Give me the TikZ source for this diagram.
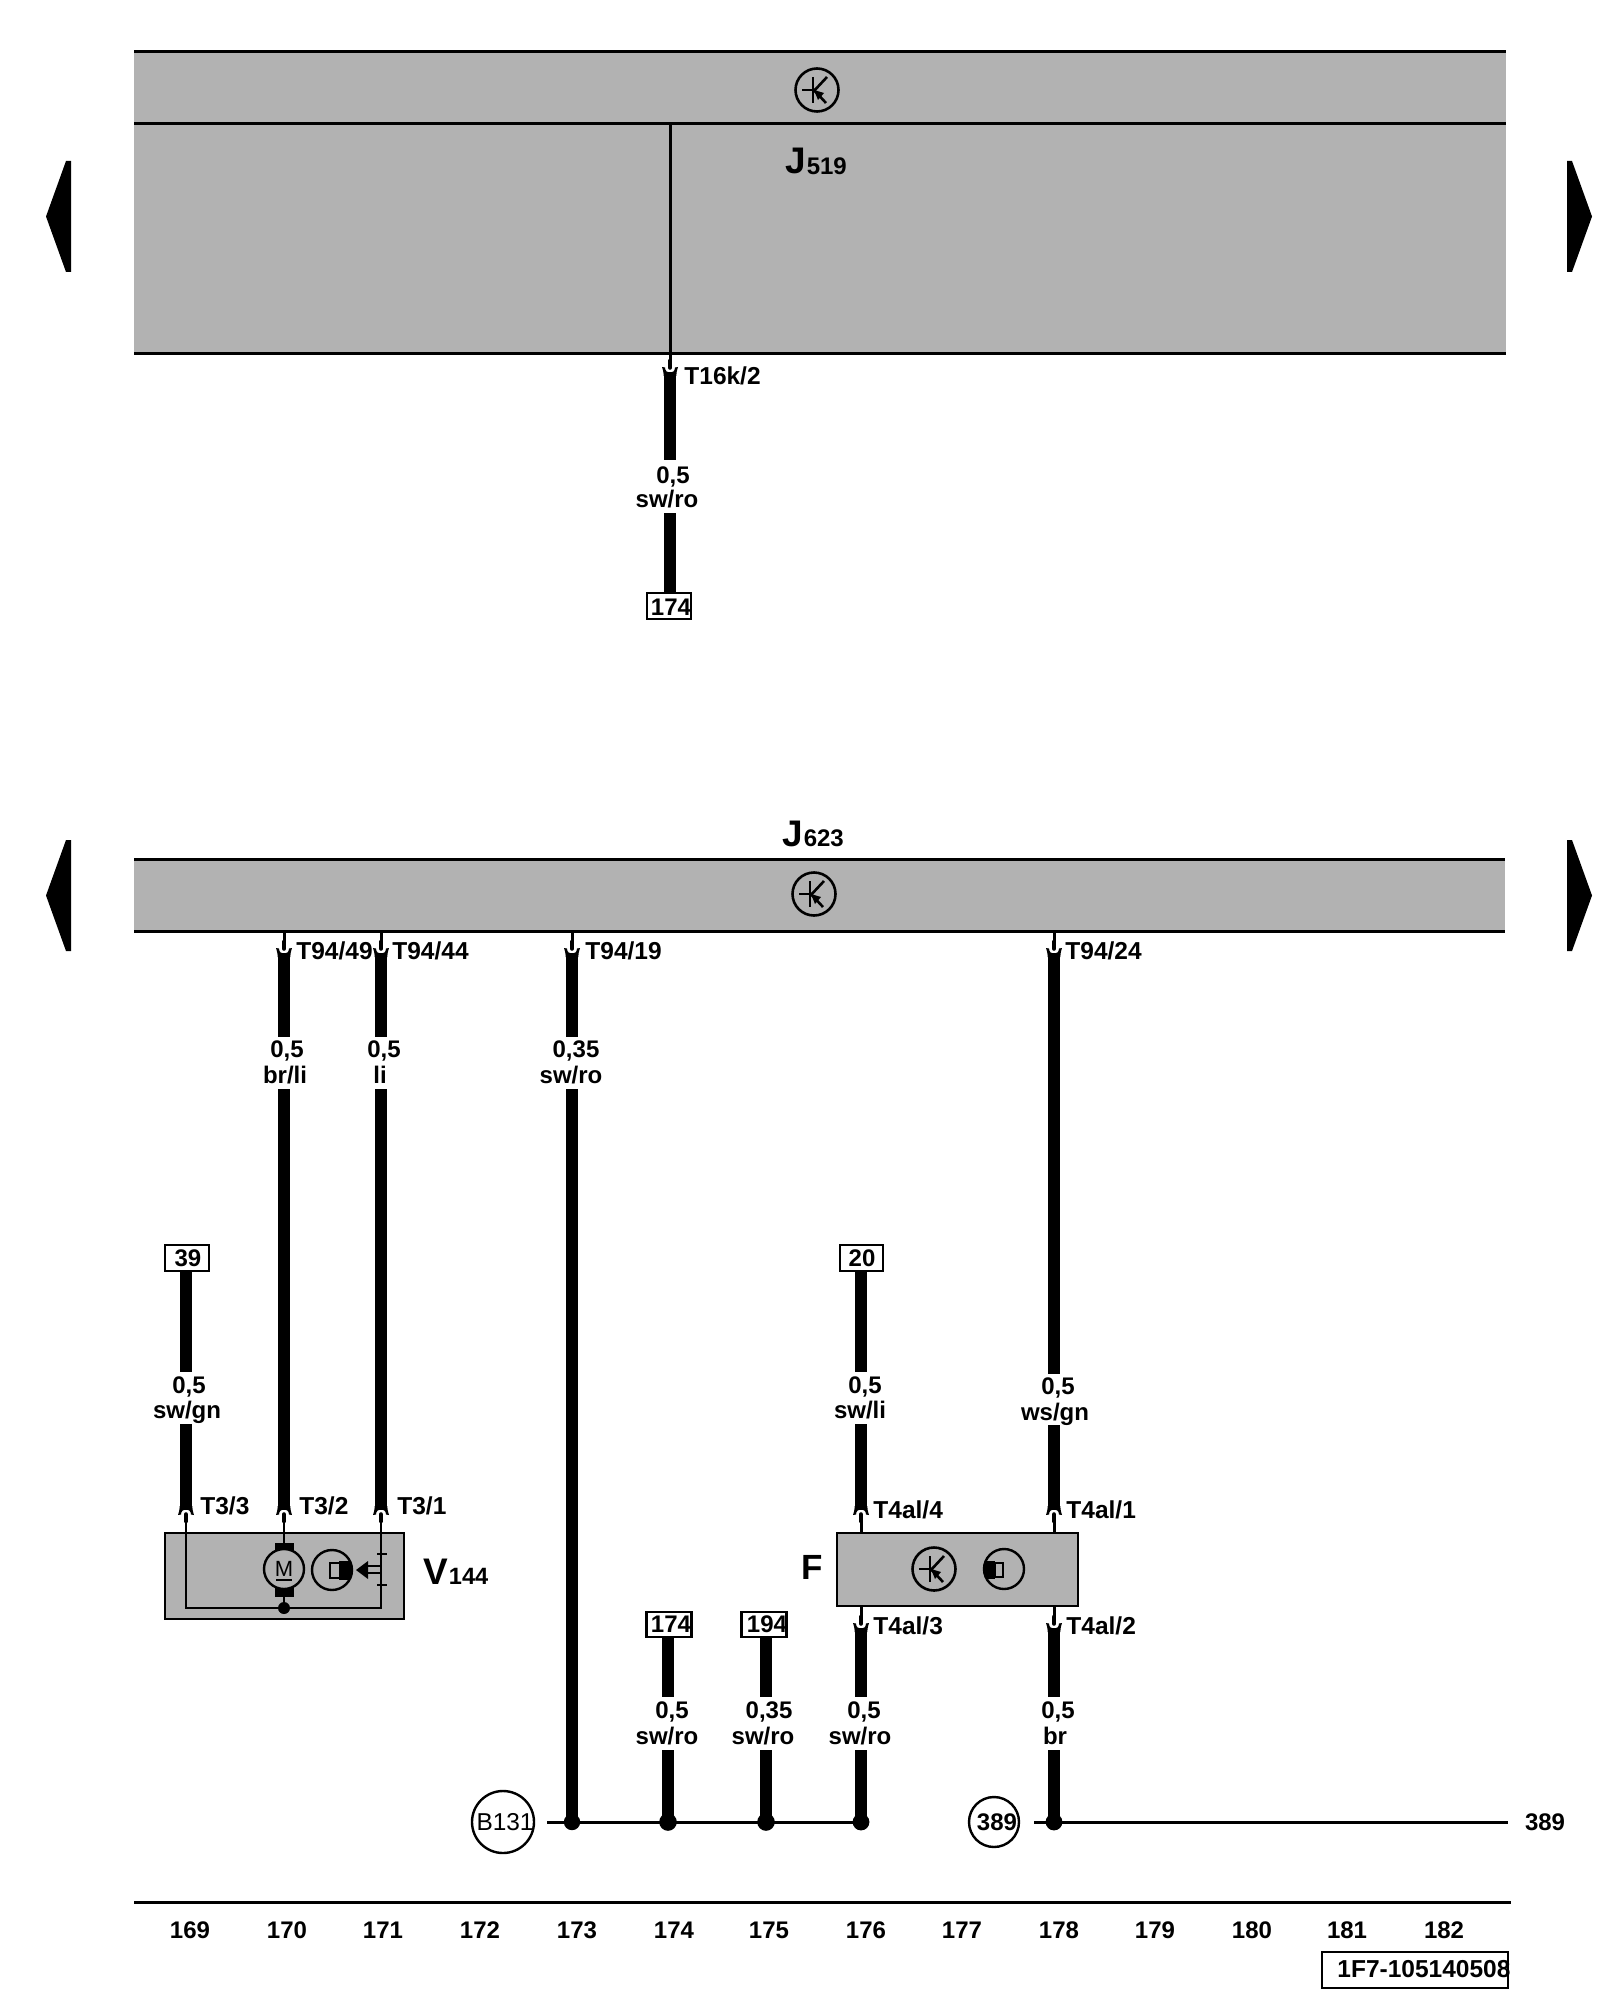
\documentclass[tikz,border=0pt]{standalone}
\usepackage{fontspec}
\setmainfont{Liberation Sans}
\newcommand\labfont{\bfseries}
\tikzset{
  x=0.5pt,y=-0.5pt,
  grayblock/.style={fill=boxgray,draw=black,line width=1.3pt},
  hrule/.style={draw=black,line width=1.5pt},
  wirethin/.style={draw=black,line width=1.5pt},
  wirethick/.style={draw=black,line width=6.4pt},
  tag/.style={inner sep=0pt,anchor=base,font=\labfont\fontsize{12}{14}\selectfont},
  pinlabel/.style={inner sep=0pt,anchor=base west,font=\labfont\fontsize{12.25}{14}\selectfont},
  numbox/.style={draw=black,fill=white,line width=1.2pt,inner sep=0pt,anchor=center},
  iconline/.style={draw=black,line width=1.3pt},
  hub/.style={circle,fill=black,inner sep=0pt},
}
\definecolor{boxgray}{HTML}{B2B2B2}
\newcommand\pincup[3]{% x, tip y, sign
  \fill[black,shift={(#1,#2)},yscale=#3] (-8,0) .. controls (-7,3) and (-6.4,5) .. (-6.4,9) -- (6.4,9) .. controls (6.4,5) and (7,3) .. (8,0) -- (5,0.5) .. controls (5,7.5) and (-5,7.5) .. (-5,0.5) -- cycle;
  \draw[black,line width=2.3pt,line cap=round,shift={(#1,#2)},yscale=#3] (0,-6) -- (0,0.5);
}
\newcommand\transicon[3]{% x, y, name
  \node[circle,draw=black,line width=1.3pt,inner sep=0pt,minimum size=21.5pt] (#3) at (#1,#2) {};
  \begin{scope}[shift={(#1,#2)}]
    \draw[iconline] (-15,0) -- (-4,0);
    \draw[iconline] (-4,-13) -- (-4,13);
    \draw[iconline] (-4,2) -- (10,-13);
    \draw[iconline] (-4,-1) -- (9,13);
    \fill[black] (-3,0) -- (7,3) -- (1,10) -- cycle;
  \end{scope}
}
\begin{document}
\begin{tikzpicture}
\useasboundingbox (0,0) rectangle (1600,2000);
\fill[white] (0,0) rectangle (1600,2000);

% ---- side markers
\foreach \ya/\yb/\n in {161/272/a,840/951/b}{
  \fill[black] (71,\ya) -- (66,\ya) -- (46,{(\ya+\yb)/2}) -- (66,\yb) -- (71,\yb) -- cycle;
  \fill[black] (1567,\ya) -- (1572,\ya) -- (1592,{(\ya+\yb)/2}) -- (1572,\yb) -- (1567,\yb) -- cycle;
}

% ---- J519
\fill[boxgray] (134,52) rectangle (1506,354);
\draw[hrule] (134,52) -- (1506,52);
\draw[hrule] (134,124) -- (1506,124);
\draw[hrule] (134,354) -- (1506,354);
\transicon{817}{90}{icona}
\node[inner sep=0pt,anchor=base west,font=\bfseries\fontsize{18.5}{20}\selectfont] (j519) at (785,174) {J};
\node[inner sep=0pt,anchor=base west,font=\labfont\fontsize{12}{14}\selectfont] (j519s) at ([yshift=-0.5pt]j519.base east) {519};

\coordinate (c519) at (670,124);
\coordinate (p519) at (670,362);
\draw[wirethin] (c519) -- (p519);
\pincup{670}{367}{1}
\coordinate (w1a) at (670,372);
\coordinate (w1b) at (670,460);
\coordinate (w1c) at (670,513);
\node[numbox,minimum width=22pt,minimum height=13pt] (b1) at (669,606) {};
\draw[wirethick] (w1a) -- (w1b);
\draw[wirethick] (w1c) -- (w1c |- b1.north);
\node[tag] (tt1) at (673,483) {0,5};
\node[tag] (tc1) at (667,507) {sw/ro};
\node[tag] at (671,615) {174};
\node[pinlabel] at (684,385) {T16k/2};

% ---- J623
\fill[boxgray] (134,859) rectangle (1505,931);
\draw[hrule] (134,859) -- (1505,859);
\draw[hrule] (134,931) -- (1505,931);
\transicon{814}{894}{iconb}
\node[inner sep=0pt,anchor=base west,font=\bfseries\fontsize{18.5}{20}\selectfont] (j623) at (782,846) {J};
\node[inner sep=0pt,anchor=base west,font=\labfont\fontsize{12}{14}\selectfont] (j623s) at (j623.base east) {623};

% pins on J623
\foreach \x in {284,381,572,1054}{
  \draw[wirethin] (\x,931) -- (\x,942);
  \pincup{\x}{948}{1}
}
\node[pinlabel] at (296,959) {T94/49};
\node[pinlabel] at (392,959) {T94/44};
\node[pinlabel] at (585,959) {T94/19};
\node[pinlabel] at (1065,959) {T94/24};

% upper gauge labels
\node[tag] at (287,1057) {0,5};
\node[tag] at (285,1083) {br/li};
\node[tag] at (384,1057) {0,5};
\node[tag] at (380,1083) {li};
\node[tag] at (576,1057) {0,35};
\node[tag] at (571,1083) {sw/ro};

% thick wires
\coordinate (a1) at (284,953); \coordinate (a2) at (284,1037); \coordinate (a3) at (284,1089); \coordinate (a4) at (284,1510);
\coordinate (e1) at (381,953); \coordinate (e2) at (381,1037); \coordinate (e3) at (381,1089); \coordinate (e4) at (381,1510);
\coordinate (s1) at (572,953); \coordinate (s2) at (572,1037); \coordinate (s3) at (572,1089); \coordinate (s4) at (572,1822);
\coordinate (q1) at (1054,953); \coordinate (q2) at (1054,1374); \coordinate (q3) at (1054,1425); \coordinate (q4) at (1054,1510);
\draw[wirethick] (a1) -- (a2); \draw[wirethick] (a3) -- (a4);
\draw[wirethick] (e1) -- (e2); \draw[wirethick] (e3) -- (e4);
\draw[wirethick] (s1) -- (s2); \draw[wirethick] (s3) -- (s4);
\draw[wirethick] (q1) -- (q2); \draw[wirethick] (q3) -- (q4);

% ---- V144
\node[grayblock,rectangle,inner sep=0pt,minimum width=119.5pt,minimum height=43pt] (v144) at (284.5,1576) {};
\coordinate (n3) at (186,1608);
\coordinate (n1) at (381,1608);
\coordinate (t33) at (186,1520);
\coordinate (t32) at (284,1520);
\coordinate (t31) at (381,1520);
\draw[wirethin,line width=1.4pt] (t33) -- (n3) -- (n1) -- (t31);
\draw[wirethin,line width=1.4pt] (t32) -- (284,1545);
\draw[wirethin,line width=1.4pt] (284,1592) -- (284,1608);
\fill[black] (275,1543) rectangle (294,1597);
\node[circle,draw=black,fill=boxgray,line width=1.2pt,inner sep=0pt,minimum size=20pt] (motor) at (284,1569) {};
\node[inner sep=0pt,anchor=base,font=\fontsize{11}{12}\selectfont] (mtxt) at (284,1576) {M};
\draw[black,line width=1.1pt] (276,1580) -- (292,1580);
\node[hub,minimum size=6pt] (mdot) at (284,1608) {};
% position sensor
\node[circle,draw=black,line width=1.2pt,inner sep=0pt,minimum size=20pt] (sens) at (332,1570) {};
\begin{scope}
  \clip (332,1570) circle (20);
  \fill[black] (339,1561) rectangle (355,1580);
\end{scope}
\draw[black,fill=boxgray,line width=1.4pt] (330,1563) rectangle (340,1578);
\draw[black,line width=1.2pt] (367,1566) -- (381,1566);
\draw[black,line width=1.2pt] (367,1573) -- (381,1573);
\fill[black] (356,1570) -- (368,1561) -- (368,1579) -- cycle;
\draw[black,line width=1.2pt] (377,1554) -- (387,1554);
\draw[black,line width=1.2pt] (377,1585) -- (387,1585);
\foreach \x in {186,284,381}{\pincup{\x}{1515}{-1}}
\node[pinlabel] at (200,1514) {T3/3};
\node[pinlabel] at (299,1514) {T3/2};
\node[pinlabel] at (397,1514) {T3/1};
\node[inner sep=0pt,anchor=base west,font=\labfont\fontsize{18.5}{20}\selectfont] (vname) at (423,1584) {V};
\node[inner sep=0pt,anchor=base west,font=\labfont\fontsize{11.8}{14}\selectfont] at (vname.base east) {144};

% wire with box 39
\node[numbox,minimum width=22pt,minimum height=13pt] (b39) at (187,1258) {};
\node[tag] at (188,1266) {39};
\coordinate (x1) at (186,1372); \coordinate (x2) at (186,1424); \coordinate (x3) at (186,1510);
\draw[wirethick] (x1 |- b39.south) -- (x1); \draw[wirethick] (x2) -- (x3);
\node[tag] at (189,1393) {0,5};
\node[tag] at (187,1418) {sw/gn};

% box 20
\node[numbox,minimum width=21.5pt,minimum height=13pt] (b20) at (861.5,1258) {};
\node[tag] at (862,1266) {20};
\coordinate (y1) at (861,1372); \coordinate (y2) at (861,1424); \coordinate (y3) at (861,1510);
\draw[wirethick] (y1 |- b20.south) -- (y1); \draw[wirethick] (y2) -- (y3);
\node[tag] at (865,1393) {0,5};
\node[tag] at (860,1418) {sw/li};
\node[tag] at (1058,1394) {0,5};
\node[tag] at (1055,1420) {ws/gn};

% ---- F
\node[grayblock,rectangle,inner sep=0pt,minimum width=120.5pt,minimum height=36.5pt] (f) at (957.5,1569.5) {};
\foreach \x in {861,1054}{
  \draw[wirethin] (\x,1533) -- (\x,1522);
  \pincup{\x}{1515}{-1}
  \draw[wirethin] (\x,1606) -- (\x,1617);
  \pincup{\x}{1623}{1}
}
\transicon{934}{1569}{iconc}
\node[circle,draw=black,line width=1.2pt,inner sep=0pt,minimum size=20pt] (sensf) at (1004,1569) {};
\begin{scope}
  \clip (1004,1569) circle (20);
  \fill[black] (980,1561) rectangle (995,1579);
\end{scope}
\draw[black,fill=boxgray,line width=1.4pt] (995,1563) rectangle (1003,1577);
\node[inner sep=0pt,anchor=base west,font=\bfseries\fontsize{17.5}{20}\selectfont] at (801,1579) {F};
\node[pinlabel] at (873,1518) {T4al/4};
\node[pinlabel] at (1066,1518) {T4al/1};
\node[pinlabel] at (873,1634) {T4al/3};
\node[pinlabel] at (1066,1634) {T4al/2};

% ---- lower wires to buses
\node[numbox,minimum width=22.5pt,minimum height=12.5pt] (b174) at (669,1624.5) {};
\node[numbox,minimum width=22.5pt,minimum height=12.5pt] (b194) at (764,1624.5) {};
\node[tag] at (671,1632) {174};
\node[tag] at (767,1632) {194};
\coordinate (g1) at (668,1697); \coordinate (g2) at (668,1750); \coordinate (g3) at (668,1822);
\coordinate (h1) at (766,1697); \coordinate (h2) at (766,1750); \coordinate (h3) at (766,1822);
\coordinate (i0) at (861,1628); \coordinate (i1) at (861,1697); \coordinate (i2) at (861,1750); \coordinate (i3) at (861,1822);
\coordinate (k0) at (1054,1628); \coordinate (k1) at (1054,1697); \coordinate (k2) at (1054,1750); \coordinate (k3) at (1054,1822);
\draw[wirethick] (b174.south -| g1) -- (g1); \draw[wirethick] (g2) -- (g3);
\draw[wirethick] (b194.south -| h1) -- (h1); \draw[wirethick] (h2) -- (h3);
\draw[wirethick] (i0) -- (i1); \draw[wirethick] (i2) -- (i3);
\draw[wirethick] (k0) -- (k1); \draw[wirethick] (k2) -- (k3);
\node[tag] at (672,1718) {0,5};
\node[tag] at (667,1744) {sw/ro};
\node[tag] at (769,1718) {0,35};
\node[tag] at (763,1744) {sw/ro};
\node[tag] at (864,1718) {0,5};
\node[tag] at (860,1744) {sw/ro};
\node[tag] at (1058,1718) {0,5};
\node[tag] at (1055,1744) {br};

% ---- ground points
\node[circle,draw=black,line width=1.2pt,inner sep=0pt,minimum size=31pt] (gb) at (503,1822) {};
\node[tag,font=\fontsize{12.2}{14}\selectfont] at (505,1830) {B131};
\node[circle,draw=black,line width=1.2pt,inner sep=0pt,minimum size=25pt] (gn) at (994,1822) {};
\node[tag] at (997,1830) {389};
\coordinate (busa) at (547,1822);
\coordinate (busb) at (1034,1822);
\coordinate (busc) at (1508,1822);
\draw[wirethin] (busa) -- (i3);
\draw[wirethin] (busb) -- (busc);
\foreach \x/\r/\n in {572/8.2/d1,668/8.8/d2,766/8.8/d3,861/8.4/d4,1054/8.4/d5}{
  \node[hub,minimum size=\r pt] (\n) at (\x,1822) {};
}
\node[tag] at (1545,1830) {389};

% ---- footer
\draw[hrule] (134,1902) -- (1511,1902);
\foreach \n/\x in {169/190,170/287,171/383,172/480,173/577,174/674,175/769,176/866,177/962,178/1059,179/1155,180/1252,181/1347,182/1444}{
  \node[tag] at (\x,1938) {\n};
}
\draw[draw=black,line width=1.3pt] (1322,1952) rectangle (1508,1988);
\node[pinlabel] at (1337,1977) {1F7-105140508};
\end{tikzpicture}
\end{document}
